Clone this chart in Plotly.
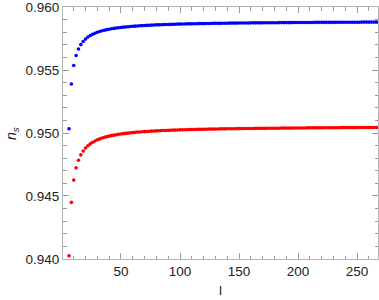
import plotly.graph_objects as go

l_values = list(range(6, 270, 2))

ns_red = [
    0.94024, 0.94449, 0.94626, 0.94723, 0.94784, 0.94826, 0.94857, 0.94881, 0.94899, 0.94914,
    0.94926, 0.94937, 0.94946, 0.94953, 0.94960, 0.94966, 0.94971, 0.94975, 0.94979, 0.94983,
    0.94986, 0.94990, 0.94992, 0.94995, 0.94997, 0.94999, 0.95001, 0.95003, 0.95005, 0.95007,
    0.95008, 0.95010, 0.95011, 0.95012, 0.95014, 0.95015, 0.95016, 0.95017, 0.95018, 0.95019,
    0.95020, 0.95020, 0.95021, 0.95022, 0.95023, 0.95023, 0.95024, 0.95025, 0.95025, 0.95026,
    0.95026, 0.95027, 0.95028, 0.95028, 0.95029, 0.95029, 0.95029, 0.95030, 0.95030, 0.95031,
    0.95031, 0.95031, 0.95032, 0.95032, 0.95033, 0.95033, 0.95033, 0.95034, 0.95034, 0.95034,
    0.95034, 0.95035, 0.95035, 0.95035, 0.95036, 0.95036, 0.95036, 0.95036, 0.95036, 0.95037,
    0.95037, 0.95037, 0.95037, 0.95037, 0.95038, 0.95038, 0.95038, 0.95038, 0.95038, 0.95038,
    0.95039, 0.95039, 0.95039, 0.95039, 0.95039, 0.95040, 0.95040, 0.95040, 0.95040, 0.95040,
    0.95040, 0.95041, 0.95041, 0.95041, 0.95041, 0.95041, 0.95041, 0.95041, 0.95042, 0.95042,
    0.95042, 0.95042, 0.95042, 0.95042, 0.95042, 0.95043, 0.95043, 0.95043, 0.95043, 0.95043,
    0.95043, 0.95043, 0.95043, 0.95044, 0.95044, 0.95044, 0.95044, 0.95044, 0.95044, 0.95044,
    0.95044, 0.95044,
]

ns_blue = [
    0.95034, 0.95389, 0.95536, 0.95616, 0.95667, 0.95702, 0.95727, 0.95746, 0.95762, 0.95774,
    0.95784, 0.95793, 0.95800, 0.95806, 0.95812, 0.95816, 0.95821, 0.95824, 0.95828, 0.95831,
    0.95834, 0.95836, 0.95838, 0.95841, 0.95842, 0.95844, 0.95846, 0.95848, 0.95849, 0.95850,
    0.95852, 0.95853, 0.95854, 0.95855, 0.95856, 0.95857, 0.95858, 0.95859, 0.95859, 0.95860,
    0.95861, 0.95862, 0.95862, 0.95863, 0.95863, 0.95864, 0.95865, 0.95865, 0.95866, 0.95866,
    0.95867, 0.95867, 0.95867, 0.95868, 0.95868, 0.95869, 0.95869, 0.95869, 0.95870, 0.95870,
    0.95870, 0.95871, 0.95871, 0.95871, 0.95871, 0.95872, 0.95872, 0.95872, 0.95873, 0.95873,
    0.95873, 0.95873, 0.95874, 0.95874, 0.95874, 0.95874, 0.95874, 0.95875, 0.95875, 0.95875,
    0.95875, 0.95875, 0.95875, 0.95876, 0.95876, 0.95876, 0.95876, 0.95876, 0.95876, 0.95877,
    0.95877, 0.95877, 0.95877, 0.95877, 0.95877, 0.95878, 0.95878, 0.95878, 0.95878, 0.95878,
    0.95878, 0.95878, 0.95878, 0.95878, 0.95879, 0.95879, 0.95879, 0.95879, 0.95879, 0.95879,
    0.95879, 0.95879, 0.95879, 0.95879, 0.95880, 0.95880, 0.95880, 0.95880, 0.95880, 0.95880,
    0.95880, 0.95880, 0.95880, 0.95880, 0.95881, 0.95881, 0.95881, 0.95881, 0.95881, 0.95881,
    0.95881, 0.95881,
]

x_ticks = [50, 100, 150, 200, 250]
y_ticks = [0.940, 0.945, 0.950, 0.955, 0.960]
y_tick_text = ["0.940", "0.945", "0.950", "0.955", "0.960"]

fig = go.Figure()
fig.add_trace(go.Scatter(x=l_values, y=ns_blue, mode="markers",
                         marker=dict(color="#0000ff", size=3.6, line=dict(width=0)),
                         showlegend=False))
fig.add_trace(go.Scatter(x=l_values, y=ns_red, mode="markers",
                         marker=dict(color="#ff0000", size=3.6, line=dict(width=0)),
                         showlegend=False))

font = dict(family="Liberation Sans, Arial, sans-serif", size=13.5, color="#222222")

fig.update_layout(
    width=379, height=300,
    margin=dict(l=63, r=1, t=7, b=41, autoexpand=False),
    paper_bgcolor="white", plot_bgcolor="white",
    font=font,
    xaxis=dict(
        range=[0.9, 267.7], tickvals=x_ticks, ticks="inside", ticklen=6,
        tickcolor="#999999", showline=True, linecolor="#b5b5b5", linewidth=1,
        mirror="ticks", showgrid=False, zeroline=False, automargin=False,
        ticklabeloverflow="allow",
        minor=dict(dtick=10, tick0=0, ticks="inside", ticklen=3.5, tickcolor="#999999", showgrid=False),
        tickfont=font,
    ),
    yaxis=dict(
        range=[0.93999, 0.96001], tickvals=y_ticks, ticktext=y_tick_text, ticks="inside", ticklen=6,
        tickcolor="#999999", showline=True, linecolor="#b5b5b5", linewidth=1,
        mirror="ticks", showgrid=False, zeroline=False, automargin=False,
        ticklabeloverflow="allow",
        minor=dict(dtick=0.001, tick0=0.94, ticks="inside", ticklen=3.5, tickcolor="#999999", showgrid=False),
        tickfont=font,
    ),
    annotations=[
        dict(text="l", xref="paper", yref="paper", x=0.5, y=-0.124, yanchor="middle",
             xanchor="center", showarrow=False, font=dict(size=13.5, color="#222222")),
        dict(text="<i>n<sub>s</sub></i>", xref="paper", yref="paper", x=-0.162, y=0.5,
             xanchor="center", yanchor="middle", textangle=-90, showarrow=False,
             font=dict(size=14, color="#222222")),
    ],
)

fig.write_html("out.html", config={"displayModeBar": False},
               post_script="document.body.style.margin='0';")
